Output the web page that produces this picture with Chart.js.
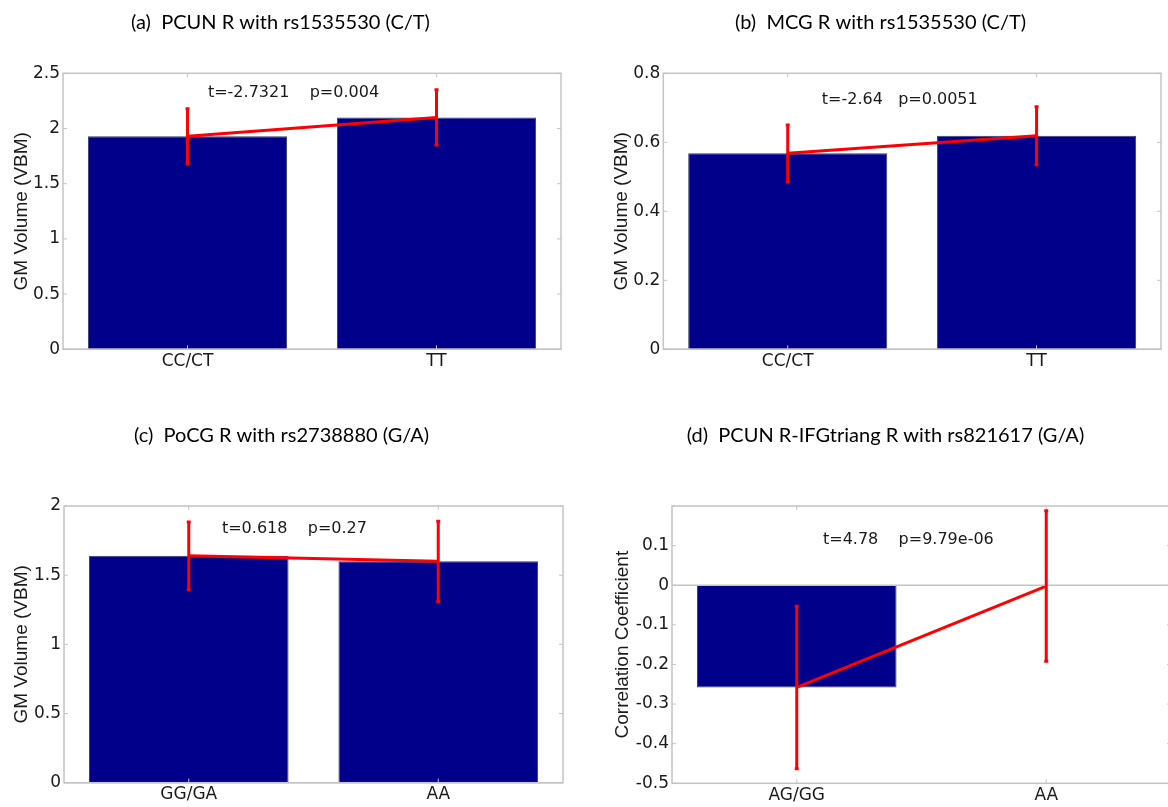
<!DOCTYPE html>
<html>
<head>
<meta charset="utf-8">
<title>Genotype effects</title>
<script src="https://cdn.jsdelivr.net/npm/chart.js@4.4.1/dist/chart.umd.min.js"></script>
<style>
  html, body { margin: 0; padding: 0; background: #fff; overflow: hidden; }
  body { width: 1168px; height: 807px; position: relative; }
  canvas { position: absolute; }
</style>
</head>
<body>
<canvas id="chartA" width="601" height="400" style="left:0px;top:0px"></canvas>
<canvas id="chartB" width="600" height="400" style="left:600px;top:0px"></canvas>
<canvas id="chartC" width="601" height="394" style="left:0px;top:413px"></canvas>
<canvas id="chartD" width="614" height="394" style="left:600px;top:413px"></canvas>
<script>
// ---- data ----
const titleA = "(a)  PCUN R with rs1535530 (C/T)";
const catsA = ["CC/CT", "TT"];
const meansA = [1.93, 2.10];
const errsA = [0.25, 0.25];
const statA = "t=-2.7321    p=0.004";

const titleB = "(b)  MCG R with rs1535530 (C/T)";
const catsB = ["CC/CT", "TT"];
const meansB = [0.568, 0.619];
const errsB = [0.082, 0.084];
const statB = "t=-2.64   p=0.0051";

const titleC = "(c)  PoCG R with rs2738880 (G/A)";
const catsC = ["GG/GA", "AA"];
const meansC = [1.64, 1.60];
const errsC = [0.245, 0.29];
const statC = "t=0.618    p=0.27";

const titleD = "(d)  PCUN R-IFGtriang R with rs821617 (G/A)";
const catsD = ["AG/GG", "AA"];
const meansD = [-0.258, -0.002];
const errsD = [0.205, 0.19];
const statD = "t=4.78    p=9.79e-06";

const barColor = "#00008b";
const errColor = "#ff0000";
const boxColor = "#c4c4c4";
const textColor = "#1a1a1a";

// draws the matlab-ish axes box, inward ticks, error bars and the t/p text
function overlay(p) {
  return {
    id: "overlay",
    afterDatasetsDraw(chart) {
      const ctx = chart.ctx;
      const area = chart.chartArea;
      const xs = chart.scales.x;
      const ys = chart.scales.y;
      ctx.save();

      ctx.strokeStyle = boxColor;
      ctx.lineWidth = 1.5;
      ctx.strokeRect(area.left, area.top, area.right - area.left, area.bottom - area.top);
      let y0 = ys.getPixelForValue(0);
      ctx.beginPath();
      ctx.moveTo(area.left, y0);
      ctx.lineTo(area.right, y0);
      ctx.stroke();

      ctx.lineWidth = 1;
      ctx.beginPath();
      ys.ticks.forEach((t, i) => {
        let py = ys.getPixelForTick(i);
        ctx.moveTo(area.left, py); ctx.lineTo(area.left + 4, py);
        ctx.moveTo(area.right, py); ctx.lineTo(area.right - 4, py);
      });
      xs.ticks.forEach((t, i) => {
        let px = xs.getPixelForTick(i);
        ctx.moveTo(px, area.top); ctx.lineTo(px, area.top + 4);
        ctx.moveTo(px, area.bottom); ctx.lineTo(px, area.bottom - 4);
      });
      ctx.stroke();

      ctx.strokeStyle = errColor;
      ctx.lineWidth = 3;
      ctx.beginPath();
      p.means.forEach((m, i) => {
        let px = xs.getPixelForValue(i);
        let top = ys.getPixelForValue(m + p.errs[i]);
        let bot = ys.getPixelForValue(m - p.errs[i]);
        ctx.moveTo(px, top); ctx.lineTo(px, bot);
        ctx.moveTo(px - 2, top); ctx.lineTo(px + 2, top);
        ctx.moveTo(px - 2, bot); ctx.lineTo(px + 2, bot);
      });
      ctx.stroke();

      ctx.fillStyle = textColor;
      ctx.font = '16px "DejaVu Sans"';
      ctx.textAlign = "left";
      ctx.textBaseline = "middle";
      ctx.fillText(p.stat, xs.getPixelForValue(p.statAt[0]), ys.getPixelForValue(p.statAt[1]));
      ctx.restore();
    }
  };
}

function makePanel(id, p) {
  let ctx = document.getElementById(id).getContext("2d");
  return new Chart(ctx, {
    type: "bar",
    data: {
      labels: p.cats,
      datasets: [
        {
          type: "line",
          data: p.means,
          borderColor: errColor,
          borderWidth: 3,
          pointRadius: 0,
          tension: 0,
          order: 1
        },
        {
          type: "bar",
          data: p.means,
          backgroundColor: barColor,
          borderColor: "#3c3c70",
          borderWidth: 1,
          barPercentage: 0.8,
          categoryPercentage: 1.0,
          order: 2
        }
      ]
    },
    options: {
      responsive: false,
      animation: false,
      layout: { padding: { left: 0, right: p.padRight, top: 0, bottom: 0 } },
      plugins: {
        legend: { display: false },
        tooltip: { enabled: false },
        title: {
          display: true,
          text: p.title,
          color: "#000",
          font: { family: "Lato", size: 20, weight: "normal" },
          padding: { top: 11, bottom: p.titleGap }
        }
      },
      scales: {
        x: {
          type: "category",
          offset: true,
          grid: { display: false, drawTicks: false },
          border: { display: false },
          ticks: {
            color: textColor,
            padding: 2,
            autoSkip: false,
            maxRotation: 0,
            font: { family: "DejaVu Sans", size: 17 }
          },
          afterFit: (scale) => { scale.height = p.xHeight; }
        },
        y: {
          min: p.yMin,
          max: p.yMax,
          grid: { display: false, drawTicks: false },
          border: { display: false },
          ticks: {
            stepSize: p.yStep,
            color: textColor,
            padding: 3,
            font: { family: "DejaVu Sans", size: 17 },
            callback: (v) => {
              let r = Math.round(v * 100) / 100;
              if (p.hideTop && Math.abs(r - p.yMax) < 1e-9) return "";
              return String(r);
            }
          },
          title: {
            display: true,
            text: p.yTitle,
            color: textColor,
            font: { family: "Liberation Sans", size: 19 },
            padding: { top: p.yTitlePad, bottom: 0 }
          },
          afterFit: (scale) => { scale.width = p.yWidth; }
        }
      }
    },
    plugins: [overlay(p)]
  });
}

makePanel("chartA", {
  title: titleA, cats: catsA, means: meansA, errs: errsA, stat: statA, statAt: [0.082, 2.324],
  yMin: 0, yMax: 2.5, yStep: 0.5, yTitle: "GM Volume (VBM)", yTitlePad: 10.3,
  yWidth: 63, padRight: 40, titleGap: 38.3, xHeight: 50.7
});
makePanel("chartB", {
  title: titleB, cats: catsB, means: meansB, errs: errsB, stat: statB, statAt: [0.137, 0.7226],
  yMin: 0, yMax: 0.8, yStep: 0.2, yTitle: "GM Volume (VBM)", yTitlePad: 10.3,
  yWidth: 63.3, padRight: 39, titleGap: 38.3, xHeight: 50.7
});
makePanel("chartC", {
  title: titleC, cats: catsC, means: meansC, errs: errsC, stat: statC, statAt: [0.133, 1.834],
  yMin: 0, yMax: 2, yStep: 0.5, yTitle: "GM Volume (VBM)", yTitlePad: 10.3,
  yWidth: 64, padRight: 38, titleGap: 58, xHeight: 24.3
});
makePanel("chartD", {
  title: titleD, cats: catsD, means: meansD, errs: errsD, stat: statD, statAt: [0.105, 0.1136],
  yMin: -0.5, yMax: 0.2, yStep: 0.1, hideTop: true, yTitle: "Correlation Coefficient", yTitlePad: 11.6,
  yWidth: 72, padRight: 43, titleGap: 58, xHeight: 23.7
});
</script>
</body>
</html>
